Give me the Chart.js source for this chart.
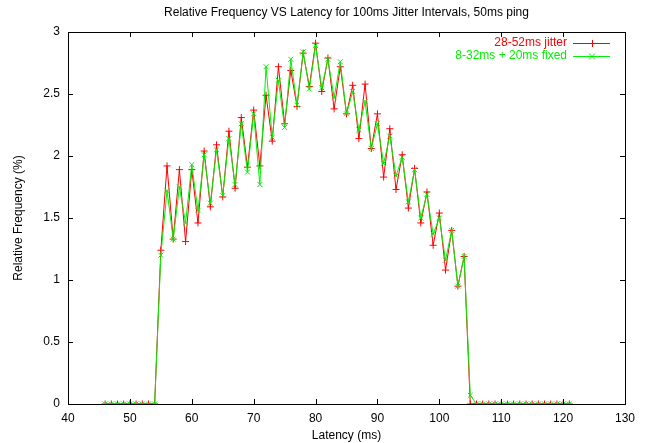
<!DOCTYPE html>
<html>
<head>
<meta charset="utf-8">
<script src="https://cdn.jsdelivr.net/npm/chart.js@4"></script>
<style>
  html, body { margin: 0; padding: 0; background: #fff; }
  #wrap { width: 649px; height: 443px; }
</style>
</head>
<body>
<div id="wrap"><canvas id="myChart" width="649" height="443"></canvas></div>
<script>
const latency = [
  46, 47, 48, 49, 50, 51, 52, 53, 54, 55, 56, 57, 58, 59, 60, 61, 62, 63, 64,
  65, 66, 67, 68, 69, 70, 71, 72, 73, 74, 75, 76, 77, 78, 79, 80, 81, 82, 83,
  84, 85, 86, 87, 88, 89, 90, 91, 92, 93, 94, 95, 96, 97, 98, 99, 100, 101,
  102, 103, 104, 105, 106, 107, 108, 109, 110, 111, 112, 113, 114, 115, 116,
  117, 118, 119, 120, 121
];
const jitterFreq = [
  0, 0, 0, 0, 0, 0, 0, 0, 0, 1.24, 1.92, 1.33, 1.89, 1.31, 1.89, 1.46, 2.04, 1.59, 2.09,
  1.67, 2.20, 1.74, 2.31, 1.91, 2.37, 1.92, 2.49, 2.12, 2.72, 2.26, 2.69, 2.40, 2.83, 2.56, 2.91, 2.52, 2.79, 2.38,
  2.72, 2.34, 2.57, 2.14, 2.58, 2.06, 2.34, 1.83, 2.22, 1.73, 2.01, 1.58, 1.90, 1.46, 1.71, 1.28, 1.54, 1.08,
  1.40, 0.95, 1.19, 0, 0, 0, 0, 0, 0, 0, 0, 0, 0, 0, 0,
  0, 0, 0, 0, 0
];
const fixedFreq = [
  0, 0, 0, 0, 0, 0, 0, 0, 0, 1.20, 1.72, 1.33, 1.75, 1.46, 1.93, 1.56, 2.01, 1.62, 2.05,
  1.68, 2.14, 1.77, 2.26, 1.87, 2.34, 1.77, 2.72, 2.15, 2.61, 2.23, 2.78, 2.41, 2.84, 2.54, 2.89, 2.55, 2.78, 2.47,
  2.76, 2.34, 2.52, 2.21, 2.44, 2.06, 2.26, 1.94, 2.16, 1.84, 1.99, 1.63, 1.89, 1.50, 1.69, 1.37, 1.50, 1.16,
  1.40, 0.95, 1.19, 0.07, 0, 0, 0, 0, 0, 0, 0, 0, 0, 0, 0,
  0, 0, 0, 0, 0
];
const seriesNames = ['28-52ms jitter', '8-32ms + 20ms fixed'];
const seriesColors = ['#ff0000', '#00ee00'];
const titleText = 'Relative Frequency VS Latency for 100ms Jitter Intervals, 50ms ping';

const FONT = '"Liberation Sans", Arial, sans-serif';

// box around the plot, inward ticks on all four sides, title and key
const gnuplotFrame = {
  id: 'gnuplotFrame',
  afterDraw(chart) {
    const { ctx, chartArea: a, scales } = chart;
    ctx.save();
    ctx.strokeStyle = '#000';
    ctx.lineWidth = 1;
    ctx.strokeRect(Math.round(a.left) + 0.5, Math.round(a.top) + 0.5,
      Math.round(a.right - a.left), Math.round(a.bottom - a.top));

    const tl = 5;
    ctx.beginPath();
    scales.x.ticks.forEach(t => {
      const px = Math.round(scales.x.getPixelForValue(t.value)) + 0.5;
      ctx.moveTo(px, a.bottom); ctx.lineTo(px, a.bottom - tl);
      ctx.moveTo(px, a.top); ctx.lineTo(px, a.top + tl);
    });
    scales.y.ticks.forEach(t => {
      const py = Math.round(scales.y.getPixelForValue(t.value)) + 0.5;
      ctx.moveTo(a.left, py); ctx.lineTo(a.left + tl, py);
      ctx.moveTo(a.right, py); ctx.lineTo(a.right - tl, py);
    });
    ctx.stroke();

    // title, centred over the plot
    ctx.fillStyle = '#000';
    ctx.font = '12px ' + FONT;
    ctx.textAlign = 'center';
    ctx.textBaseline = 'middle';
    ctx.fillText(titleText, (a.left + a.right) / 2, 13);

    // key, top right
    ctx.textAlign = 'right';
    const keyY = [43, 56];
    seriesNames.forEach((name, i) => {
      const y = keyY[i];
      ctx.fillStyle = seriesColors[i];
      ctx.fillText(name, 567, y);
      ctx.strokeStyle = seriesColors[i];
      ctx.beginPath();
      ctx.moveTo(573, y + 0.5); ctx.lineTo(610, y + 0.5);
      const r = 3;
      if (i === 0) {
        ctx.moveTo(592.5, y - r); ctx.lineTo(592.5, y + r + 1);
      } else {
        ctx.moveTo(592 - r, y - r + 0.5); ctx.lineTo(592 + r, y + r + 0.5);
        ctx.moveTo(592 - r, y + r + 0.5); ctx.lineTo(592 + r, y - r + 0.5);
      }
      ctx.stroke();
    });
    ctx.restore();
  }
};

const data = {
  datasets: [
    {
      label: seriesNames[0],
      data: latency.map((x, i) => ({ x, y: jitterFreq[i] })),
      borderColor: seriesColors[0],
      backgroundColor: seriesColors[0],
      borderWidth: 1,
      pointStyle: 'cross',
      pointRadius: 3.5,
      pointBorderWidth: 1,
      order: 2
    },
    {
      label: seriesNames[1],
      data: latency.map((x, i) => ({ x, y: fixedFreq[i] })),
      borderColor: seriesColors[1],
      backgroundColor: seriesColors[1],
      borderWidth: 1,
      pointStyle: 'crossRot',
      pointRadius: 3.5,
      pointBorderWidth: 1,
      order: 1
    }
  ]
};

const config = {
  type: 'line',
  data,
  options: {
    responsive: false,
    animation: false,
    layout: { padding: { top: 32, right: 24, left: 0, bottom: 0 } },
    scales: {
      x: {
        type: 'linear',
        min: 40,
        max: 130,
        ticks: { stepSize: 10, color: '#000', font: { family: FONT, size: 12 }, padding: 7, maxRotation: 0 },
        grid: { display: false, drawTicks: false },
        border: { display: false },
        title: { display: true, text: 'Latency (ms)', color: '#000', font: { family: FONT, size: 12 }, padding: { top: 0, bottom: 0 } },
        afterFit(scale) { scale.height = 39; }
      },
      y: {
        min: 0,
        max: 3,
        ticks: {
          stepSize: 0.5, color: '#000', font: { family: FONT, size: 12 }, padding: 8,
          callback: v => String(v)
        },
        grid: { display: false, drawTicks: false },
        border: { display: false },
        title: { display: true, text: 'Relative Frequency (%)', color: '#000', font: { family: FONT, size: 12 }, padding: { top: 11, bottom: 0 } },
        afterFit(scale) { scale.width = 68; }
      }
    },
    plugins: {
      legend: { display: false },
      tooltip: { enabled: false }
    }
  },
  plugins: [gnuplotFrame]
};

const myChart = new Chart(document.getElementById('myChart'), config);
</script>
</body>
</html>
